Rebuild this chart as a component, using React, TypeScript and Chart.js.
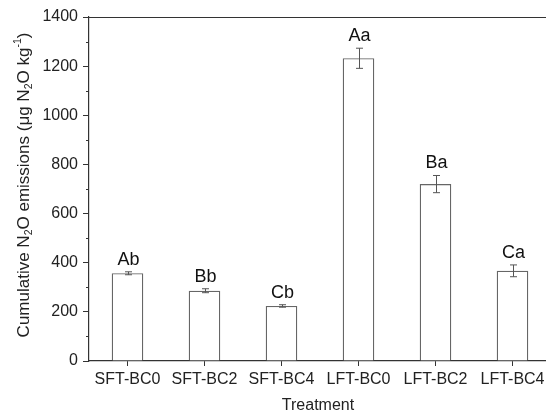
import React, { useEffect, useRef } from "react";
import { Chart, registerables } from "chart.js";

Chart.register(...registerables);

const categories = ["SFT-BC0", "SFT-BC2", "SFT-BC4", "LFT-BC0", "LFT-BC2", "LFT-BC4"];
const values = [357, 286, 224, 1232, 720, 367];
const errors = [6, 8, 5, 41, 35, 24];
const letters = ["Ab", "Bb", "Cb", "Aa", "Ba", "Ca"];
const yTicks = [0, 200, 400, 600, 800, 1000, 1200, 1400];

const FONT = "'Liberation Sans', Arial, sans-serif";
const AXIS = "#333333";

const decorPlugin = {
  id: "decor",
  afterDatasetsDraw(chart: any) {
    const ctx = chart.ctx;
    const area = chart.chartArea;
    const xs = chart.scales.x;
    const ys = chart.scales.y;
    ctx.save();
    // top frame line
    ctx.strokeStyle = AXIS;
    ctx.lineWidth = 1.2;
    ctx.beginPath();
    ctx.moveTo(area.left, area.top + 0.5);
    ctx.lineTo(area.right, area.top + 0.5);
    ctx.stroke();
    // minor ticks
    ctx.lineWidth = 1;
    for (let v = 100; v < 1400; v += 200) {
      const y = Math.round(ys.getPixelForValue(v)) + 0.5;
      ctx.beginPath();
      ctx.moveTo(area.left - 3, y);
      ctx.lineTo(area.left, y);
      ctx.stroke();
    }
    // error bars and letters
    ctx.strokeStyle = "#555555";
    ctx.lineWidth = 1;
    ctx.fillStyle = "#111111";
    ctx.font = `18px ${FONT}`;
    ctx.textAlign = "center";
    ctx.textBaseline = "alphabetic";
    values.forEach((v, i) => {
      const x = Math.round(xs.getPixelForValue(i)) + 0.5;
      const yTop = ys.getPixelForValue(v + errors[i]);
      const yBot = ys.getPixelForValue(v - errors[i]);
      ctx.beginPath();
      ctx.moveTo(x, yTop);
      ctx.lineTo(x, yBot);
      ctx.moveTo(x - 3.5, yTop);
      ctx.lineTo(x + 3.5, yTop);
      ctx.moveTo(x - 3.5, yBot);
      ctx.lineTo(x + 3.5, yBot);
      ctx.stroke();
      ctx.fillText(letters[i], x, yTop - 7);
    });
    // x title
    ctx.font = `16px ${FONT}`;
    ctx.fillStyle = "#222222";
    ctx.textBaseline = "middle";
    ctx.fillText("Treatment", (area.left + area.right) / 2 - 2, 406);
    // y title with sub/superscripts
    const segs = [
      { t: "Cumulative N", k: "n" },
      { t: "2", k: "sub" },
      { t: "O emissions (\u03bcg N", k: "n" },
      { t: "2", k: "sub" },
      { t: "O kg", k: "n" },
      { t: "-1", k: "sup" },
      { t: ")", k: "n" },
    ];
    const fontFor = (k: string) => (k === "n" ? `17px ${FONT}` : `10.5px ${FONT}`);
    let total = 0;
    segs.forEach((s) => {
      ctx.font = fontFor(s.k);
      total += ctx.measureText(s.t).width;
    });
    ctx.translate(24, 185);
    ctx.rotate(-Math.PI / 2);
    ctx.textAlign = "left";
    ctx.textBaseline = "middle";
    let cx = -total / 2;
    segs.forEach((s) => {
      ctx.font = fontFor(s.k);
      const dy = s.k === "sub" ? 5 : s.k === "sup" ? -5.5 : 0;
      ctx.fillText(s.t, cx, dy);
      cx += ctx.measureText(s.t).width;
    });
    ctx.restore();
  },
};

export default function App() {
  const ref = useRef<HTMLCanvasElement | null>(null);
  useEffect(() => {
    if (!ref.current) return;
    const chart = new Chart(ref.current, {
      type: "bar",
      data: {
        labels: categories,
        datasets: [
          {
            data: values,
            backgroundColor: "#ffffff",
            borderColor: "#666666",
            borderWidth: 1.3,
            barPercentage: 0.41,
            categoryPercentage: 1,
          },
        ],
      },
      options: {
        responsive: false,
        animation: false,
        layout: { padding: { top: 17, left: 0, right: 0, bottom: 0 } },
        plugins: { legend: { display: false }, tooltip: { enabled: false } },
        scales: {
          x: {
            type: "category",
            offset: true,
            grid: { offset: false, drawOnChartArea: false, tickLength: 5, color: AXIS },
            border: { color: AXIS, width: 1.2 },
            ticks: { color: "#222222", font: { family: FONT, size: 16 }, padding: 4, maxRotation: 0, autoSkip: false },
            afterFit: (s: any) => {
              s.height = 55;
            },
          },
          y: {
            min: 0,
            max: 1400,
            afterBuildTicks: (s: any) => {
              s.ticks = yTicks.map((v) => ({ value: v }));
            },
            grid: { drawOnChartArea: false, tickLength: 6, color: AXIS },
            border: { color: AXIS, width: 1.2 },
            ticks: {
              color: "#222222",
              font: { family: FONT, size: 16 },
              padding: 5,
              callback: (v: any) => String(v),
            },
            afterFit: (s: any) => {
              s.width = 89;
            },
          },
        },
      },
      plugins: [decorPlugin],
    });
    return () => chart.destroy();
  }, []);
  return (
    <div style={{ position: "absolute", left: 0, top: 0, width: 546, height: 416, overflow: "hidden", background: "#fff" }}>
      <canvas ref={ref} width={551} height={416} />
    </div>
  );
}
